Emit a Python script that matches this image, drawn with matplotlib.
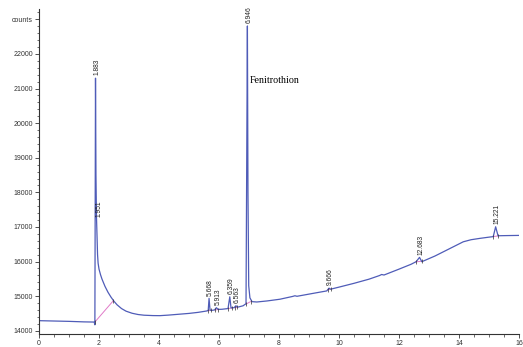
import matplotlib
matplotlib.use("Agg")
import matplotlib.pyplot as plt
import numpy as np

plt.rcParams['font.family'] = ['Liberation Sans', 'DejaVu Sans']

# chromatogram trace (retention time in min, counts)
time = [0.0, 0.5, 1.0, 1.5, 1.84, 1.862, 1.868, 1.883, 1.898, 1.915, 1.935, 1.951,
        1.97, 2.0, 2.05, 2.1, 2.2, 2.3, 2.4, 2.5, 2.6, 2.75, 2.9, 3.1, 3.3, 3.5,
        3.8, 4.03, 4.3, 4.65, 5.0, 5.3, 5.59, 5.64, 5.668, 5.70, 5.74, 5.85, 5.913,
        5.97, 6.1, 6.3, 6.359, 6.40, 6.5, 6.563, 6.62, 6.8, 6.9, 6.93, 6.946, 6.965,
        6.99, 7.03, 7.1, 7.26, 7.6, 8.03, 8.45, 8.53, 8.6, 9.14, 9.59, 9.666, 9.72,
        10.0, 10.5, 11.0, 11.35, 11.42, 11.5, 12.0, 12.4, 12.57, 12.683, 12.76, 12.8,
        13.2, 13.59, 14.14, 14.4, 14.7, 15.0, 15.14, 15.221, 15.3, 15.6, 16.0]
counts = [14290, 14280, 14270, 14255, 14250, 14170, 16150, 21300, 18500, 17300, 16700,
          16200, 15950, 15780, 15620, 15490, 15280, 15110, 14970, 14850, 14750, 14640,
          14565, 14505, 14468, 14448, 14437, 14435, 14450, 14475, 14500, 14530, 14570,
          14590, 14935, 14600, 14585, 14600, 14665, 14615, 14620, 14640, 14980, 14660,
          14665, 14720, 14680, 14720, 14780, 20000, 22810, 18000, 15300, 14950, 14840,
          14830, 14860, 14910, 14990, 15010, 14995, 15080, 15150, 15230, 15200, 15260,
          15370, 15490, 15595, 15625, 15610, 15780, 15920, 15995, 16120, 15995, 16010,
          16160, 16330, 16570, 16630, 16670, 16705, 16720, 17005, 16745, 16750, 16755]

# peak labels and the height where each label starts
peak_rt = [1.883, 1.951, 5.668, 5.913, 6.359, 6.563, 6.946, 9.666, 12.683, 15.221]
peak_lab = ['1.883', '1.951', '5.668', '5.913', '6.359', '6.563', '6.946', '9.666', '12.683', '15.221']
label_y = [21300, 17200, 14935, 14665, 14980, 14720, 22810, 15230, 16120, 17005]

# integration baselines
base_x0 = [1.862, 5.62, 5.87, 6.31, 6.52, 6.9, 9.62, 12.56, 15.13]
base_y0 = [14250, 14575, 14600, 14640, 14665, 14770, 15180, 15990, 16720]
base_x1 = [2.48, 5.72, 5.96, 6.42, 6.6, 7.05, 9.72, 12.78, 15.3]
base_y1 = [14870, 14590, 14610, 14655, 14675, 14840, 15200, 16010, 16740]

fig = plt.figure(figsize=(5.23, 3.47), dpi=100)
ax = fig.add_axes([0.0746, 0.0375, 0.9178, 0.9365])

for x0, y0, x1, y1 in zip(base_x0, base_y0, base_x1, base_y1):
    ax.plot([x0, x1], [y0, y1], color='#e07ac8', lw=0.7, zorder=1)
ax.plot(base_x0 + base_x1, base_y0 + base_y1, '|', color='#333333', ms=2.2, mew=0.5, zorder=3)

ax.plot(time, counts, color='#4f5cb8', lw=0.9, zorder=2)

for rt, lab, y in zip(peak_rt, peak_lab, label_y):
    ax.annotate(lab, (rt, y), xytext=(1, 2), textcoords='offset points',
                rotation=90, ha='center', va='bottom', fontsize=4.8, color='#222222')

ax.text(7.03, 21230, 'Fenitrothion', family='Liberation Serif', fontsize=7.2,
        va='center', ha='left')

ax.set_xlim(0, 16)
ax.set_ylim(13905, 23300)
ax.set_xticks(np.arange(0, 17, 2))
ax.set_xticks(np.arange(0, 16.01, 0.5), minor=True)
yt = np.arange(14000, 23001, 1000)
ax.set_yticks(yt)
ax.set_yticklabels([str(v) for v in yt[:-1]] + ['counts'])
ax.set_yticks(np.arange(14000, 23201, 200), minor=True)

for s in ['top', 'right']:
    ax.spines[s].set_visible(False)
for s in ['left', 'bottom']:
    ax.spines[s].set_linewidth(0.8)
    ax.spines[s].set_color('#333333')
ax.tick_params(which='major', length=3, width=0.6, labelsize=5, pad=1.5, colors='#333333')
ax.tick_params(which='minor', length=1.8, width=0.5, colors='#333333')

fig.savefig('out.png', dpi=100)
